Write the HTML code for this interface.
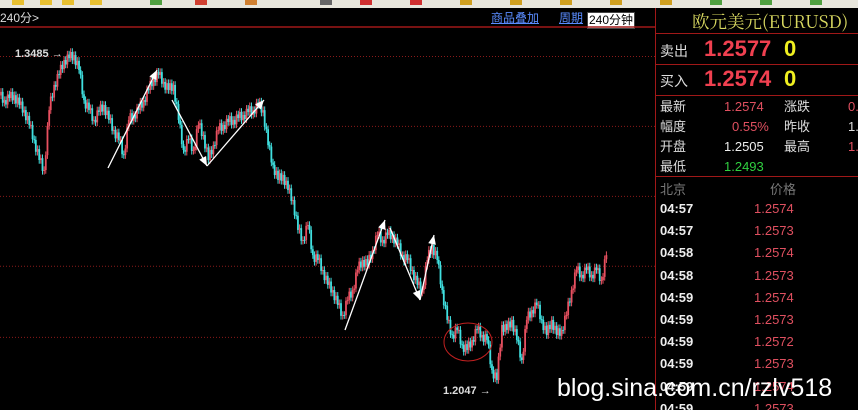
<!DOCTYPE html>
<html><head><meta charset="utf-8"><style>
body{margin:0;width:858px;height:410px;overflow:hidden;background:#000;font-family:"Liberation Sans","Noto Sans CJK SC",sans-serif;}
#wrap{position:relative;width:858px;height:410px;}
.t{position:absolute;white-space:nowrap;}
</style></head><body><div id="wrap">
<div style="position:absolute;left:0;top:0;width:858px;height:8px;background:#e8e6dc;"></div>
<svg id="tb" style="position:absolute;left:0;top:0" width="858" height="8"></svg>
<div class="t" style="left:0;top:9px;color:#ddd;font-size:12px;">240分&gt;</div>
<div class="t" style="left:491px;top:9px;color:#5a8cff;font-size:12px;text-decoration:underline;">商品叠加</div>
<div class="t" style="left:559px;top:9px;color:#5a8cff;font-size:12px;text-decoration:underline;">周期</div>
<div class="t" style="left:587px;top:12px;background:#fff;color:#000;font-size:12px;border:1px solid #444;padding:0 1px;line-height:15px;">240分钟</div>
<svg id="chart" style="position:absolute;left:0;top:0" width="655" height="410"></svg>
<div style="position:absolute;left:655px;top:8px;width:203px;height:402px;border-left:1px solid #a01818;overflow:hidden;">
<div class="t" style="left:36px;top:1px;color:#d8d860;font-size:17.5px;font-family:'Noto Serif CJK SC','Liberation Serif',serif;">欧元美元(EURUSD)</div>
<div style="position:absolute;left:0;top:25px;width:203px;height:1px;background:#a01818"></div>
<div class="t" style="left:4px;top:33px;color:#ddd;font-size:14px;">卖出</div>
<div class="t" style="left:48px;top:28px;color:#f04050;font-size:22px;font-weight:bold;">1.2577</div>
<div class="t" style="left:128px;top:28px;color:#f0f020;font-size:22px;font-weight:bold;">0</div>
<div style="position:absolute;left:0;top:56px;width:203px;height:1px;background:#a01818"></div>
<div class="t" style="left:4px;top:63px;color:#ddd;font-size:14px;">买入</div>
<div class="t" style="left:48px;top:58px;color:#f04050;font-size:22px;font-weight:bold;">1.2574</div>
<div class="t" style="left:128px;top:58px;color:#f0f020;font-size:22px;font-weight:bold;">0</div>
<div style="position:absolute;left:0;top:87px;width:203px;height:1px;background:#a01818"></div>
<div style="position:absolute;left:0;top:89px;font-size:13px;line-height:20px;">
<div class="t" style="left:4px;top:0;color:#ddd">最新</div><div class="t" style="left:68px;top:0;color:#e05060">1.2574</div><div class="t" style="left:128px;top:0;color:#ddd">涨跌</div><div class="t" style="left:192px;top:0;color:#e05060">0.</div>
<div class="t" style="left:4px;top:20px;color:#ddd">幅度</div><div class="t" style="left:76px;top:20px;color:#e05060">0.55%</div><div class="t" style="left:128px;top:20px;color:#ddd">昨收</div><div class="t" style="left:192px;top:20px;color:#ddd">1.</div>
<div class="t" style="left:4px;top:40px;color:#ddd">开盘</div><div class="t" style="left:68px;top:40px;color:#eee">1.2505</div><div class="t" style="left:128px;top:40px;color:#ddd">最高</div><div class="t" style="left:192px;top:40px;color:#e05060">1.</div>
<div class="t" style="left:4px;top:60px;color:#ddd">最低</div><div class="t" style="left:68px;top:60px;color:#30d040">1.2493</div>
</div>
<div style="position:absolute;left:0;top:168px;width:203px;height:1px;background:#a01818"></div>
<div class="t" style="left:4px;top:171px;color:#777;font-size:13px;">北京</div>
<div class="t" style="left:114px;top:171px;color:#777;font-size:13px;">价格</div>
<div id="ticks" style="position:absolute;left:0;top:0;"></div>
</div>
<div class="t" style="left:557px;top:374px;color:#fff;font-size:25px;">blog.sina.com.cn/rzlv518</div>
</div>
<script>
const tickTimes=["04:57","04:57","04:58","04:58","04:59","04:59","04:59","04:59","04:59","04:59"];
const tickPrices=["1.2574","1.2573","1.2574","1.2573","1.2574","1.2573","1.2572","1.2573","1.2574","1.2573"];
const closes=[1.3283,1.3292,1.3304,1.3262,1.3240,1.3176,1.3112,1.3026,1.2983,1.3240,1.3348,1.3391,1.3455,1.3463,1.3476,1.3412,1.3283,1.3240,1.3198,1.3232,1.3262,1.3198,1.3155,1.3112,1.3047,1.3198,1.3219,1.3240,1.3283,1.3326,1.3378,1.3391,1.3361,1.3326,1.3348,1.3198,1.3069,1.3112,1.3069,1.3176,1.3133,1.3026,1.3090,1.3155,1.3176,1.3189,1.3198,1.3206,1.3219,1.3232,1.3240,1.3262,1.3240,1.3090,1.3005,1.2940,1.2962,1.2897,1.2854,1.2726,1.2683,1.2747,1.2618,1.2597,1.2554,1.2490,1.2468,1.2404,1.2361,1.2425,1.2468,1.2554,1.2597,1.2576,1.2640,1.2704,1.2683,1.2704,1.2704,1.2661,1.2618,1.2597,1.2554,1.2490,1.2468,1.2597,1.2661,1.2597,1.2468,1.2340,1.2275,1.2297,1.2232,1.2211,1.2254,1.2297,1.2275,1.2254,1.2125,1.2082,1.2318,1.2297,1.2340,1.2254,1.2168,1.2340,1.2382,1.2404,1.2340,1.2275,1.2340,1.2275,1.2297,1.2361,1.2468,1.2554,1.2533,1.2554,1.2533,1.2554,1.2511,1.2618];
const gridPrices=[1.3470,1.3170,1.2870,1.2570,1.2265];
const labelHigh="1.3485",labelLow="1.2047";
const NS="http://www.w3.org/2000/svg";
const svg=document.getElementById('chart');
const yS=p=>53+(1.3485-p)/0.000429;
const xS=i=>3+i*(602/(closes.length-1));
function el(tag,a){const e=document.createElementNS(NS,tag);for(const k in a)e.setAttribute(k,a[k]);svg.appendChild(e);return e;}
let r=el('line',{x1:0,y1:27,x2:655,y2:27,stroke:'#a01818','stroke-width':1.5});

gridPrices.forEach(p=>{const g=el('line',{x1:0,x2:655,y1:yS(p),y2:yS(p),stroke:'#8a1a1a','stroke-dasharray':'1,2'});
});
const jit=[0.0022,-0.0018,0.0012];
closes.forEach((c,i)=>{
 const o=i?closes[i-1]:c+0.002;const x=xS(i);
 const s=(i%2?-1:1);
 const sub=[o,(o*2+c)/3+jit[0]*s,(o+c*2)/3+jit[1]*s,c];
 for(let k=0;k<3;k++){
  const a=sub[k],b=sub[k+1],up=b>a;const col=up?'#e85060':'#40e0e0';
  const xx=x-2+k*1.7;
  const w=el('line',{x1:xx,x2:xx,y1:yS(Math.max(a,b)+0.0016),y2:yS(Math.min(a,b)-0.0016),stroke:col,'stroke-width':1});
  
  const bd=el('rect',{x:xx-0.9,y:yS(Math.max(a,b)),width:1.8,height:Math.max(1,Math.abs(yS(a)-yS(b))),fill:col});
  
 }
});
const arrows=[[108,168,157,70],[172,100,207,166],[207,166,264,100],[345,330,385,220],[390,228,420,300],[420,300,434,235]];
arrows.forEach(a=>{const l=el('line',{x1:a[0],y1:a[1],x2:a[2],y2:a[3],stroke:'#fff','stroke-width':1.3});

const ang=Math.atan2(a[3]-a[1],a[2]-a[0]);const L=10;
const p=[[a[2],a[3]],[a[2]-L*Math.cos(ang-0.4),a[3]-L*Math.sin(ang-0.4)],[a[2]-L*Math.cos(ang+0.4),a[3]-L*Math.sin(ang+0.4)]];
const h=el('polygon',{points:p.map(q=>q.join(',')).join(' '),fill:'#fff'});
});
const c=el('ellipse',{cx:468,cy:342,rx:24,ry:19,fill:'none',stroke:'#c02020','stroke-width':1});

[[15,57,labelHigh+' →'],[443,394,labelLow+' →']].forEach(t=>{const e=el('text',{x:t[0],y:t[1],fill:'#ddd','font-size':11,'font-weight':'bold','font-family':'Liberation Sans'});e.textContent=t[2];
});
const tb=document.getElementById('tb');
[[12,'#e8c030'],[40,'#e8c030'],[62,'#e8c030'],[90,'#e8c030'],[150,'#50a040'],[195,'#d04030'],[245,'#d08030'],[320,'#666'],[360,'#d03030'],[410,'#d03030'],[460,'#d0a020'],[510,'#d0a020'],[560,'#d0a020'],[610,'#d0a020'],[660,'#d0a020'],[710,'#50a040'],[760,'#50a040'],[810,'#50a040']].forEach(q=>{const r=document.createElementNS(NS,'rect');r.setAttribute('x',q[0]);r.setAttribute('y',0);r.setAttribute('width',12);r.setAttribute('height',5);r.setAttribute('fill',q[1]);tb.appendChild(r);
});
const tk=document.getElementById('ticks');
tickTimes.forEach((t,i)=>{const y=193+i*22.2;
const a=document.createElement('div');a.className='t';a.style.cssText=`left:4px;top:${y}px;color:#eee;font-size:13px;font-weight:bold;`;a.textContent=t;
tk.appendChild(a);
const b=document.createElement('div');b.className='t';b.style.cssText=`left:98px;top:${y}px;color:#e05060;font-size:13px;`;b.textContent=tickPrices[i];
tk.appendChild(b);});
</script></body></html>
